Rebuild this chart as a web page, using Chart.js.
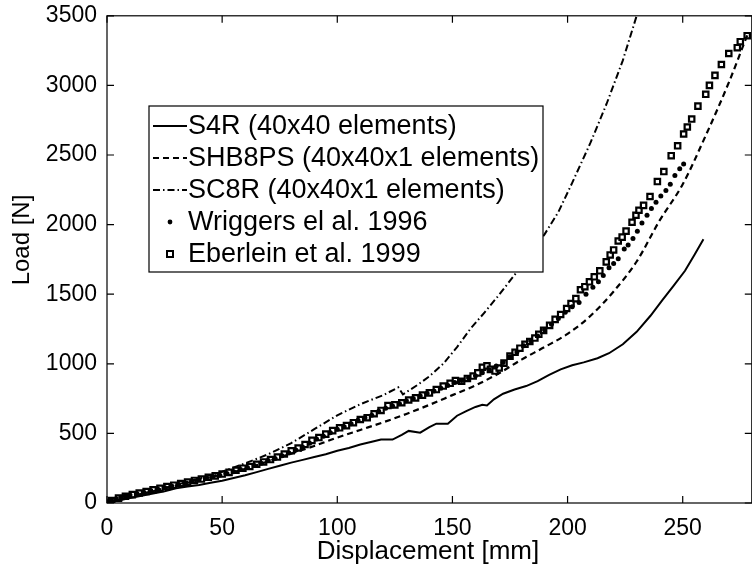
<!DOCTYPE html>
<html>
<head>
<meta charset="utf-8">
<script src="https://cdn.jsdelivr.net/npm/chart.js@4/dist/chart.umd.min.js"></script>
<style>
  html, body { margin: 0; padding: 0; background: #fff; overflow: hidden; }
  #wrap { width: 758px; height: 568px; }
</style>
</head>
<body>
<div id="wrap"><canvas id="graphCanvas" width="758" height="568"></canvas></div>
<script>
// load / displacement curves
var s4rX = [0, 5, 10, 15, 20, 25, 30, 35, 40, 45, 50, 55, 60, 65, 70, 75, 80, 85, 90, 95, 100, 105, 110, 115, 119, 124, 128, 131, 136, 140, 143, 148, 152, 156, 160, 163, 165, 168, 172, 177, 182, 187, 192, 197, 202, 207, 213, 218, 224, 230, 236, 241, 246, 251, 255, 259];
var s4rY = [0, 18, 35, 52, 68, 85, 105, 118, 130, 145, 160, 180, 200, 222, 245, 268, 290, 310, 330, 350, 375, 395, 420, 440, 456, 456, 490, 518, 505, 545, 570, 570, 627, 660, 690, 705, 700, 745, 785, 815, 840, 875, 920, 960, 990, 1010, 1040, 1076, 1140, 1230, 1345, 1454, 1560, 1668, 1780, 1895];

var shbX = [0, 10, 20, 30, 40, 50, 60, 70, 80, 90, 100, 110, 120, 130, 140, 150, 160, 170, 180, 190, 200, 210, 220, 230, 240, 250, 260, 270, 278];
var shbY = [0, 45, 85, 125, 165, 205, 245, 300, 355, 410, 470, 525, 580, 640, 705, 775, 845, 930, 1030, 1120, 1215, 1345, 1520, 1735, 2030, 2290, 2640, 3020, 3360];

var sc8X = [0, 10, 20, 30, 40, 50, 60, 70, 75, 80, 90, 100, 110, 120, 126.5, 128.5, 135, 140, 146, 152, 158, 164, 170, 178, 184, 190, 196, 202, 210, 217, 224, 230, 231];
var sc8Y = [0, 42, 85, 130, 175, 225, 285, 350, 390, 430, 530, 630, 710, 775, 831, 780, 850, 910, 1000, 1120, 1255, 1370, 1490, 1660, 1790, 1930, 2090, 2300, 2590, 2870, 3180, 3500, 3560];

var wrigX = [0, 2, 4, 6, 8, 10, 13, 16, 19, 22, 25, 28, 31, 34, 37, 40, 43, 46, 49, 52, 55, 58, 61, 64, 67, 70, 73, 76, 79, 82, 85, 88, 91, 94, 97, 100, 103, 106, 109, 112, 115, 118, 121, 124, 127, 130, 133, 136, 139, 142, 145, 148, 151, 154, 157, 160, 163, 166, 169, 172, 175, 178, 181, 184, 187, 190, 193, 196, 199, 202, 205, 208, 211, 213.4, 215.5, 218, 220, 222, 224.6, 226.3, 228.4, 230.3, 232.3, 234.5, 236.4, 238.4, 240.5, 242.7, 244.6, 246.6, 248.7, 250.4];
var wrigY = [0, 15, 30, 42, 50, 58, 68, 78, 90, 100, 112, 122, 135, 145, 157, 168, 178, 190, 200, 212, 225, 240, 255, 270, 285, 305, 320, 340, 360, 380, 400, 430, 460, 480, 505, 530, 548, 570, 595, 612, 630, 660, 680, 697, 713, 735, 750, 770, 788, 805, 825, 845, 865, 880, 900, 915, 935, 955, 985, 1010, 1050, 1085, 1130, 1165, 1200, 1245, 1285, 1325, 1370, 1410, 1440, 1500, 1550, 1590, 1635, 1690, 1720, 1755, 1825, 1853, 1900, 1953, 2012, 2067, 2115, 2160, 2205, 2245, 2290, 2352, 2402, 2435];

var eberX = [0, 2, 5, 8, 11, 14, 17, 20, 23, 26, 29, 32, 35, 38, 41, 44, 47, 50, 53, 56, 59, 62, 65, 68, 71, 74, 77, 80, 83, 86, 89, 92, 95, 98, 101, 104, 107, 110, 113, 116, 119, 122, 125, 128, 131, 134, 137, 140, 143, 146, 149, 151.3, 154, 156.5, 159, 161, 163, 165, 166.5, 168.5, 170.3, 172.4, 175, 177.2, 179.3, 181.5, 183.6, 185.8, 187.5, 189.6, 192.2, 194.6, 197, 199.6, 201.5, 203.6, 205.6, 207.5, 209.5, 211.6, 214, 216.8, 218.5, 220, 222, 223.7, 225.4, 228, 229.7, 231, 233, 235.8, 239, 241.8, 245, 247.8, 250.4, 252, 253.9, 256.6, 260, 261.6, 264, 266.8, 270, 273.7, 275, 278];
var eberY = [0, 18, 35, 48, 60, 72, 82, 95, 105, 118, 128, 140, 150, 162, 172, 185, 195, 208, 220, 235, 250, 262, 278, 295, 312, 330, 352, 375, 395, 420, 450, 470, 495, 520, 540, 556, 577, 600, 613, 641, 665, 700, 705, 720, 740, 755, 775, 791, 815, 840, 860, 880, 875, 895, 912, 935, 975, 985, 960, 948, 970, 1005, 1055, 1083, 1112, 1140, 1160, 1185, 1212, 1240, 1276, 1319, 1354, 1397, 1433, 1468, 1532, 1554, 1589, 1625, 1668, 1732, 1782, 1818, 1882, 1910, 1953, 2017, 2067, 2103, 2138, 2202, 2309, 2381, 2495, 2566, 2651, 2701, 2758, 2851, 2936, 3000, 3072, 3150, 3229, 3271, 3314, 3357];

var xTicks = [0, 50, 100, 150, 200, 250];
var yTicks = [0, 500, 1000, 1500, 2000, 2500, 3000, 3500];
var labels = ['S4R (40x40 elements)', 'SHB8PS (40x40x1 elements)', 'SC8R (40x40x1 elements)', 'Wriggers el al. 1996', 'Eberlein et al. 1999'];
var xTitle = 'Displacement [mm]';
var yTitle = 'Load [N]';

function pts(xs, ys) {
    var out = [];
    for (var i in xs) {
        out.push({x: xs[i], y: ys[i]});
    }
    return out;
}

var FONT = 'Liberation Sans, Arial, sans-serif';

// matlab style box with inward ticks, plus the axis titles
var boxTicks = {
    id: 'boxTicks',
    afterDraw: function(chart) {
        var ctx = chart.ctx, a = chart.chartArea;
        var xs = chart.scales.x, ys = chart.scales.y;
        ctx.save();
        ctx.strokeStyle = '#000';
        ctx.lineWidth = 1.2;
        ctx.strokeRect(a.left, a.top, a.right - a.left, a.bottom - a.top);
        ctx.beginPath();
        xTicks.forEach(function(v) {
            var p = xs.getPixelForValue(v);
            ctx.moveTo(p, a.bottom); ctx.lineTo(p, a.bottom - 7);
            ctx.moveTo(p, a.top); ctx.lineTo(p, a.top + 7);
        });
        yTicks.forEach(function(v) {
            var p = ys.getPixelForValue(v);
            ctx.moveTo(a.left, p); ctx.lineTo(a.left + 7, p);
            ctx.moveTo(a.right, p); ctx.lineTo(a.right - 7, p);
        });
        ctx.stroke();

        ctx.fillStyle = '#000';
        ctx.textAlign = 'center';
        ctx.textBaseline = 'middle';
        ctx.font = '26px ' + FONT;
        ctx.fillText(xTitle, 428, 552);
        ctx.translate(22, 240);
        ctx.rotate(-Math.PI / 2);
        ctx.font = '24px ' + FONT;
        ctx.fillText(yTitle, 0, 0);
        ctx.restore();
    }
};

var legendBox = {
    id: 'legendBox',
    afterDraw: function(chart) {
        var ctx = chart.ctx;
        var bx = 149, by = 106, bw = 394, bh = 166;
        ctx.save();
        ctx.fillStyle = '#fff';
        ctx.fillRect(bx, by, bw, bh);
        ctx.strokeStyle = '#000';
        ctx.lineWidth = 1.2;
        ctx.strokeRect(bx, by, bw, bh);
        ctx.font = '27px ' + FONT;
        ctx.textBaseline = 'middle';
        ctx.fillStyle = '#000';
        chart.data.datasets.forEach(function(ds, i) {
            var y = 126 + i * 32;
            if (ds.showLine) {
                ctx.save();
                ctx.lineWidth = ds.borderWidth;
                ctx.setLineDash(ds.borderDash || []);
                ctx.beginPath();
                ctx.moveTo(153, y); ctx.lineTo(187, y);
                ctx.stroke();
                ctx.restore();
            } else if (ds.pointStyle === 'rect') {
                ctx.save();
                ctx.lineWidth = 2;
                ctx.strokeRect(167, y - 3, 6, 6);
                ctx.restore();
            } else {
                ctx.beginPath();
                ctx.arc(170, y, 2.4, 0, Math.PI * 2);
                ctx.fill();
            }
            ctx.fillText(labels[i], 188, y + 1);
        });
        ctx.restore();
    }
};

var chartdata = {
    datasets: [
        {
            label: labels[0],
            data: pts(s4rX, s4rY),
            showLine: true,
            borderColor: '#000',
            borderWidth: 2,
            pointRadius: 0
        },
        {
            label: labels[1],
            data: pts(shbX, shbY),
            showLine: true,
            borderColor: '#000',
            borderWidth: 2.2,
            borderDash: [6, 4],
            pointRadius: 0,
            cubicInterpolationMode: 'monotone'
        },
        {
            label: labels[2],
            data: pts(sc8X, sc8Y),
            showLine: true,
            borderColor: '#000',
            borderWidth: 2,
            borderDash: [7, 3, 1.5, 3],
            pointRadius: 0
        },
        {
            label: labels[3],
            data: pts(wrigX, wrigY),
            showLine: false,
            pointStyle: 'circle',
            pointRadius: 2.5,
            backgroundColor: '#000',
            borderColor: '#000',
            borderWidth: 0
        },
        {
            label: labels[4],
            data: pts(eberX, eberY),
            showLine: false,
            pointStyle: 'rect',
            pointRadius: 3.8,
            backgroundColor: '#fff',
            borderColor: '#000',
            borderWidth: 2.2
        }
    ]
};

var graphTarget = document.getElementById('graphCanvas');
var lineGraph = new Chart(graphTarget, {
    type: 'scatter',
    data: chartdata,
    plugins: [boxTicks, legendBox],
    options: {
        responsive: false,
        animation: false,
        layout: { padding: { top: 13, right: 2, left: 0, bottom: 0 } },
        plugins: {
            legend: { display: false },
            tooltip: { enabled: false }
        },
        scales: {
            x: {
                type: 'linear',
                min: 0,
                max: 280,
                afterFit: function(s) { s.height = 65; },
                afterBuildTicks: function(s) { s.ticks = xTicks.map(function(v) { return {value: v}; }); },
                grid: { display: false },
                border: { display: false },
                ticks: { color: '#000', padding: 4, font: { family: FONT, size: 23 }, maxRotation: 0,
                         callback: function(v) { return String(v); } }
            },
            y: {
                type: 'linear',
                min: 0,
                max: 3500,
                afterFit: function(s) { s.width = 107; },
                afterBuildTicks: function(s) { s.ticks = yTicks.map(function(v) { return {value: v}; }); },
                grid: { display: false },
                border: { display: false },
                ticks: { color: '#000', padding: 2, font: { family: FONT, size: 23 },
                         callback: function(v) { return String(v); } }
            }
        }
    }
});
</script>
</body>
</html>
